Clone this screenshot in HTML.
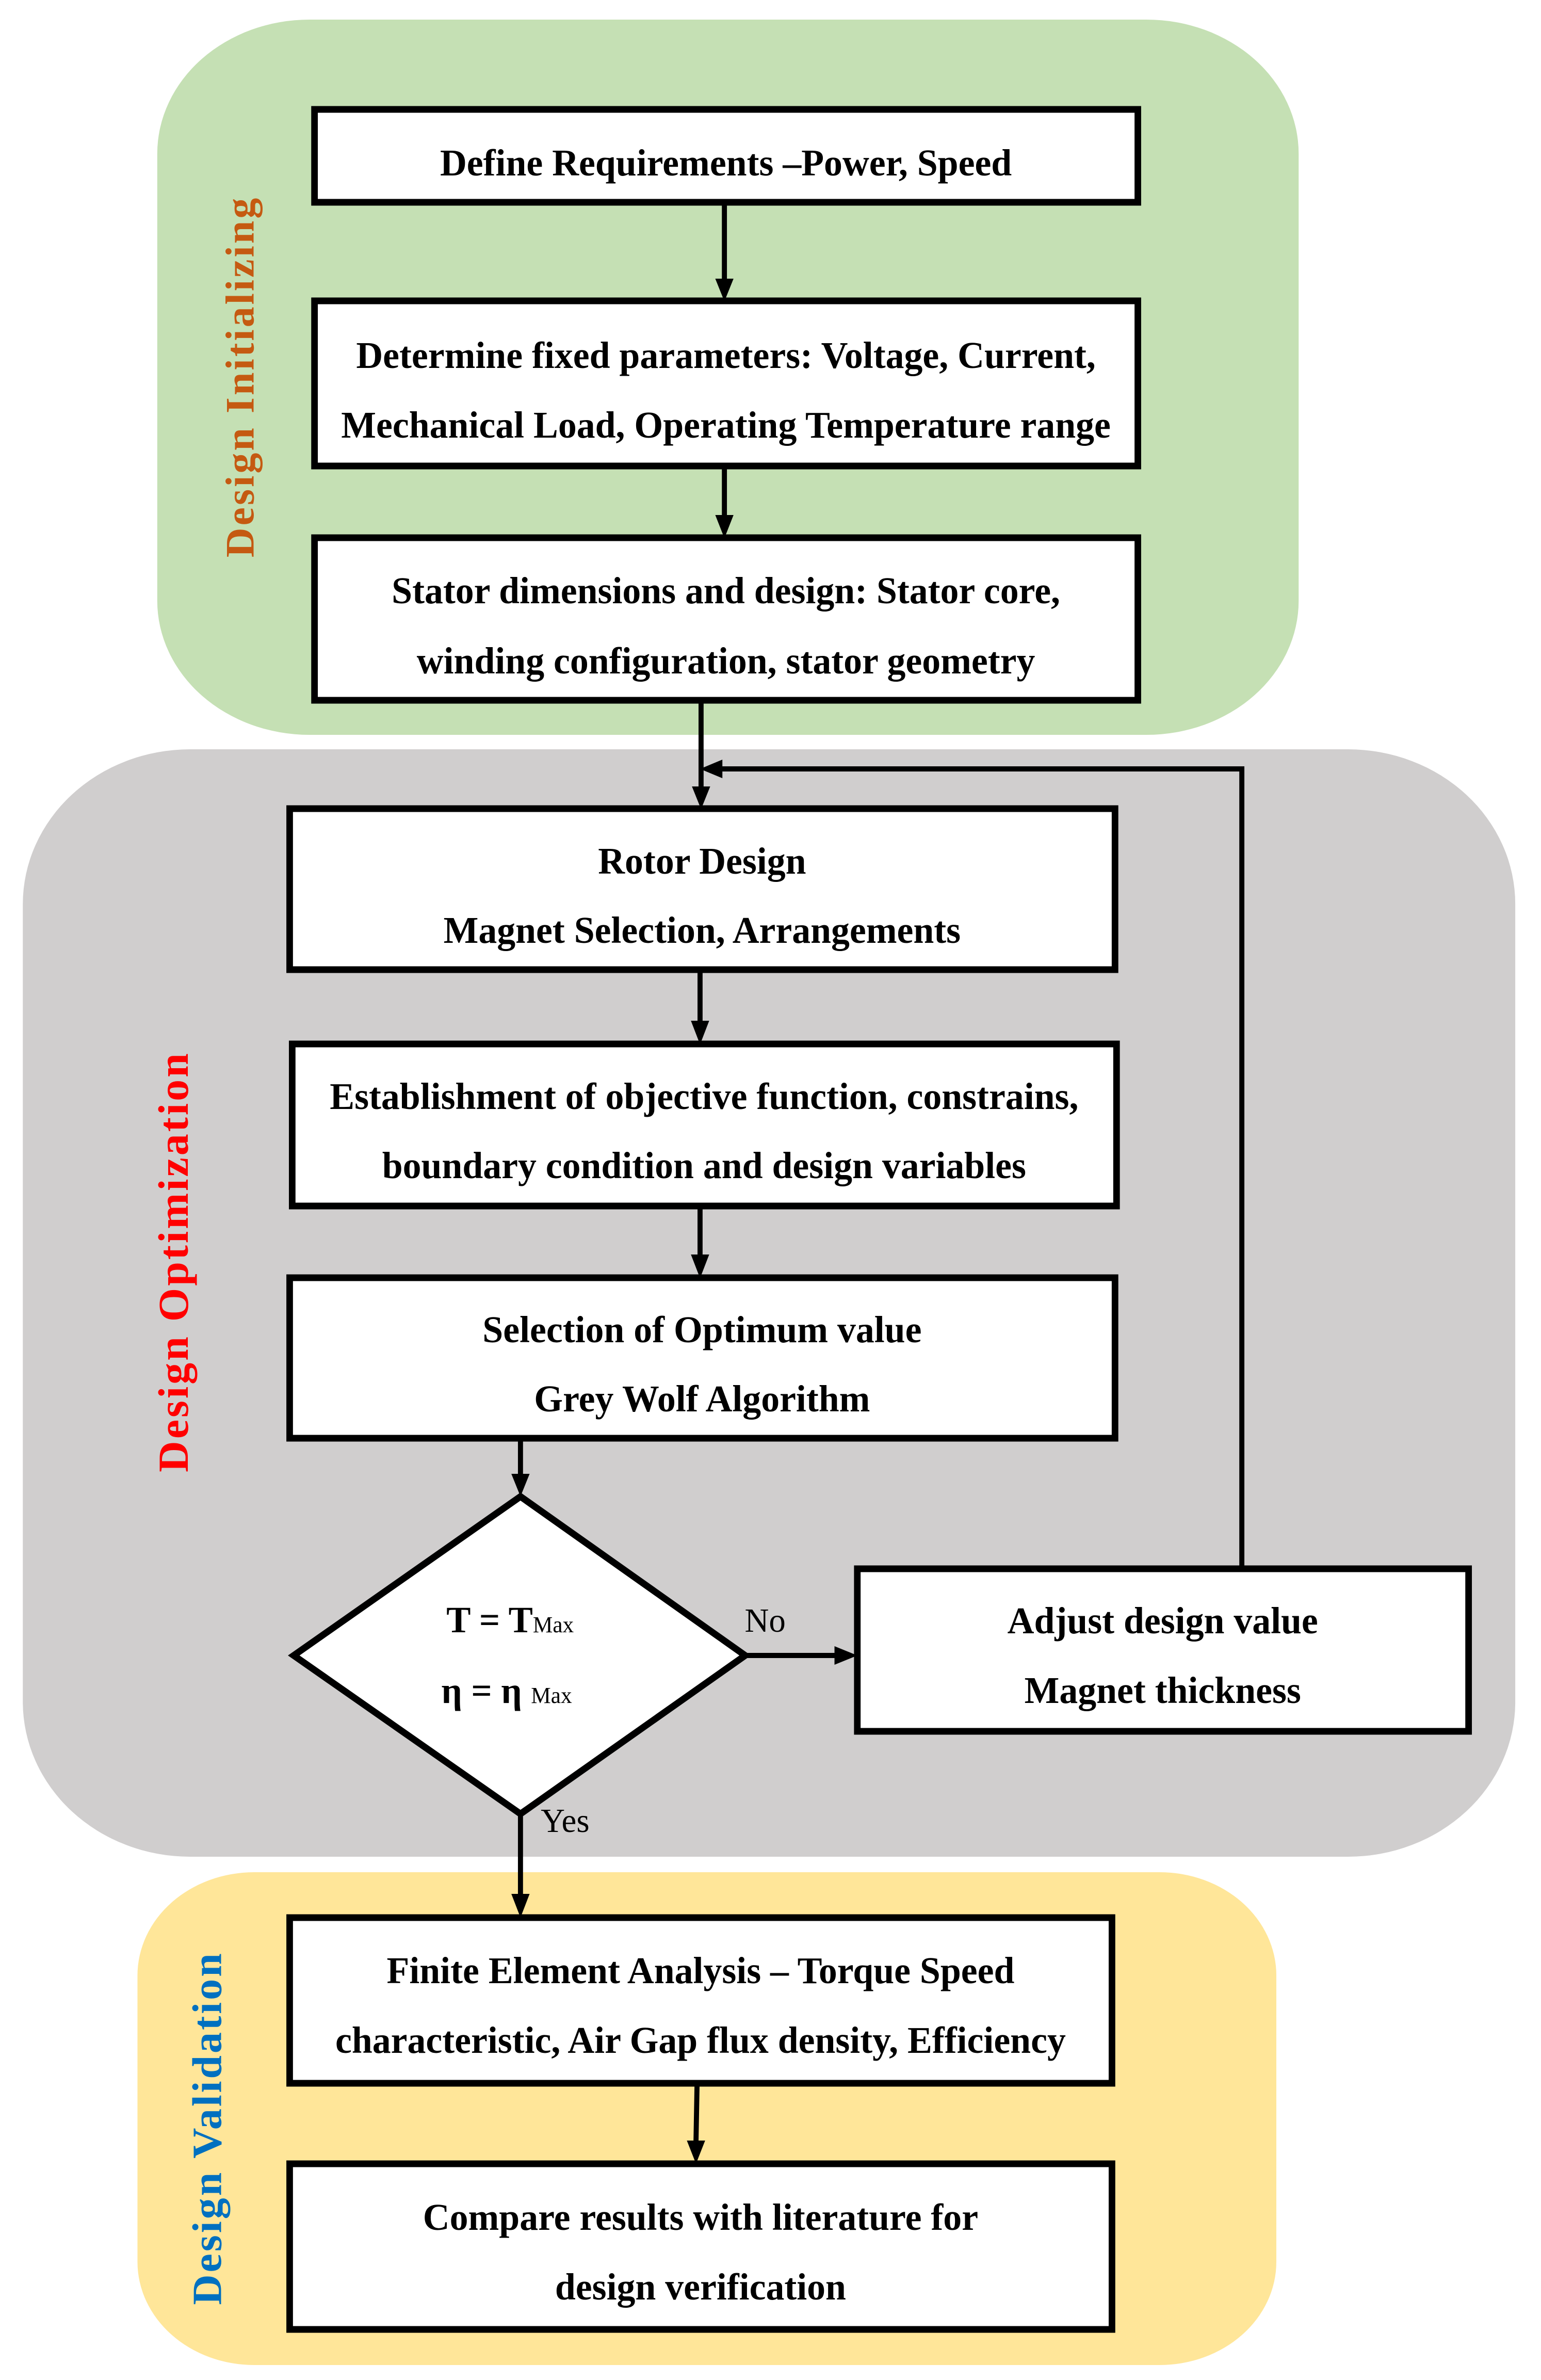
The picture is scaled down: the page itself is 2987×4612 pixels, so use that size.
<!DOCTYPE html>
<html><head><meta charset="utf-8"><style>
html,body{margin:0;padding:0;background:#fff}
svg{display:block}
text{font-family:"Liberation Serif",serif}
.b{font-weight:bold;font-size:73px;fill:#000}
</style></head><body>
<svg width="2987" height="4612" viewBox="0 0 2987 4612" xmlns="http://www.w3.org/2000/svg">
<g transform="scale(0.9833,1)">
<rect x="310" y="38" width="2250" height="1386" rx="300" ry="260" fill="#C5E0B4"/>
<rect x="45" y="1452" width="2942" height="2146" rx="330" ry="300" fill="#D0CECE"/>
<rect x="271" y="3628" width="2245" height="955" rx="230" ry="200" fill="#FFE699"/>

<text transform="translate(500,730) rotate(-90)" text-anchor="middle" font-weight="bold" font-size="80" letter-spacing="4" fill="#C55A11">Design Initializing</text>
<text transform="translate(370,2445) rotate(-90)" text-anchor="middle" font-weight="bold" font-size="84" letter-spacing="4" fill="#FF0000">Design Optimization</text>
<text transform="translate(436,4124) rotate(-90)" text-anchor="middle" font-weight="bold" font-size="82" letter-spacing="4" fill="#0070C0">Design Validation</text>

<g stroke="#000" stroke-width="13" fill="#fff">
<rect x="620" y="212" width="1623" height="180"/>
<rect x="620" y="583" width="1623" height="320"/>
<rect x="620" y="1042" width="1623" height="315"/>
<rect x="571" y="1567" width="1627" height="312"/>
<rect x="576" y="2023" width="1625" height="314"/>
<rect x="571" y="2476" width="1627" height="311"/>
<rect x="1690" y="3040" width="1205" height="315"/>
<rect x="571" y="3716" width="1621" height="321"/>
<rect x="571" y="4193" width="1621" height="321"/>
<polygon points="1026,2900 1469,3208 1026,3515 579,3208"/>
</g>

<g stroke="#000" stroke-width="10" fill="none">
<line x1="1428" y1="398" x2="1428" y2="540"/>
<line x1="1428" y1="909" x2="1428" y2="1000"/>
<line x1="1382" y1="1363" x2="1382" y2="1530"/>
<polyline points="2448,3034 2448,1490 1420,1490"/>
<line x1="1380" y1="1885" x2="1380" y2="1980"/>
<line x1="1380" y1="2343" x2="1380" y2="2433"/>
<line x1="1026" y1="2793" x2="1026" y2="2860"/>
<line x1="1469" y1="3208" x2="1650" y2="3208"/>
<line x1="1026" y1="3515" x2="1026" y2="3670"/>
<line x1="1374" y1="4043" x2="1372" y2="4150"/>
</g>
<g fill="#000">
<polygon points="1410,540 1446,540 1428,584"/>
<polygon points="1410,998 1446,998 1428,1043"/>
<polygon points="1364,1524 1400,1524 1382,1568"/>
<polygon points="1380,1490 1424,1472 1424,1508"/>
<polygon points="1362,1978 1398,1978 1380,2024"/>
<polygon points="1362,2431 1398,2431 1380,2477"/>
<polygon points="1008,2856 1044,2856 1026,2900"/>
<polygon points="1645,3190 1645,3226 1690,3208"/>
<polygon points="1008,3670 1044,3670 1026,3716"/>
<polygon points="1354,4148 1390,4148 1372,4193"/>
</g>

<g class="b" text-anchor="middle">
<text x="1431" y="340">Define Requirements –Power, Speed</text>
<text x="1431" y="713">Determine fixed parameters: Voltage, Current,</text>
<text x="1431" y="848">Mechanical Load, Operating Temperature range</text>
<text x="1431" y="1169">Stator dimensions and design: Stator core,</text>
<text x="1431" y="1305">winding configuration, stator geometry</text>
<text x="1384" y="1693">Rotor Design</text>
<text x="1384" y="1827">Magnet Selection, Arrangements</text>
<text x="1388" y="2149">Establishment of objective function, constrains,</text>
<text x="1388" y="2283">boundary condition and design variables</text>
<text x="1384" y="2601">Selection of Optimum value</text>
<text x="1384" y="2735">Grey Wolf Algorithm</text>
<text x="2292" y="3165">Adjust design value</text>
<text x="2292" y="3300">Magnet thickness</text>
<text x="1381" y="3843">Finite Element Analysis – Torque Speed</text>
<text x="1381" y="3978">characteristic, Air Gap flux density, Efficiency</text>
<text x="1381" y="4321">Compare results with literature for</text>
<text x="1381" y="4456">design verification</text>
</g>
<text x="880" y="3163" font-size="72" font-weight="bold">T = T<tspan font-size="44" font-weight="normal">Max</tspan></text>
<text x="870" y="3300" font-size="72" font-weight="bold">η = η <tspan font-size="44" font-weight="normal">Max</tspan></text>
<text x="1468" y="3162" font-size="66">No</text>
<text x="1066" y="3550" font-size="66">Yes</text>
</g>
</svg>
</body></html>
